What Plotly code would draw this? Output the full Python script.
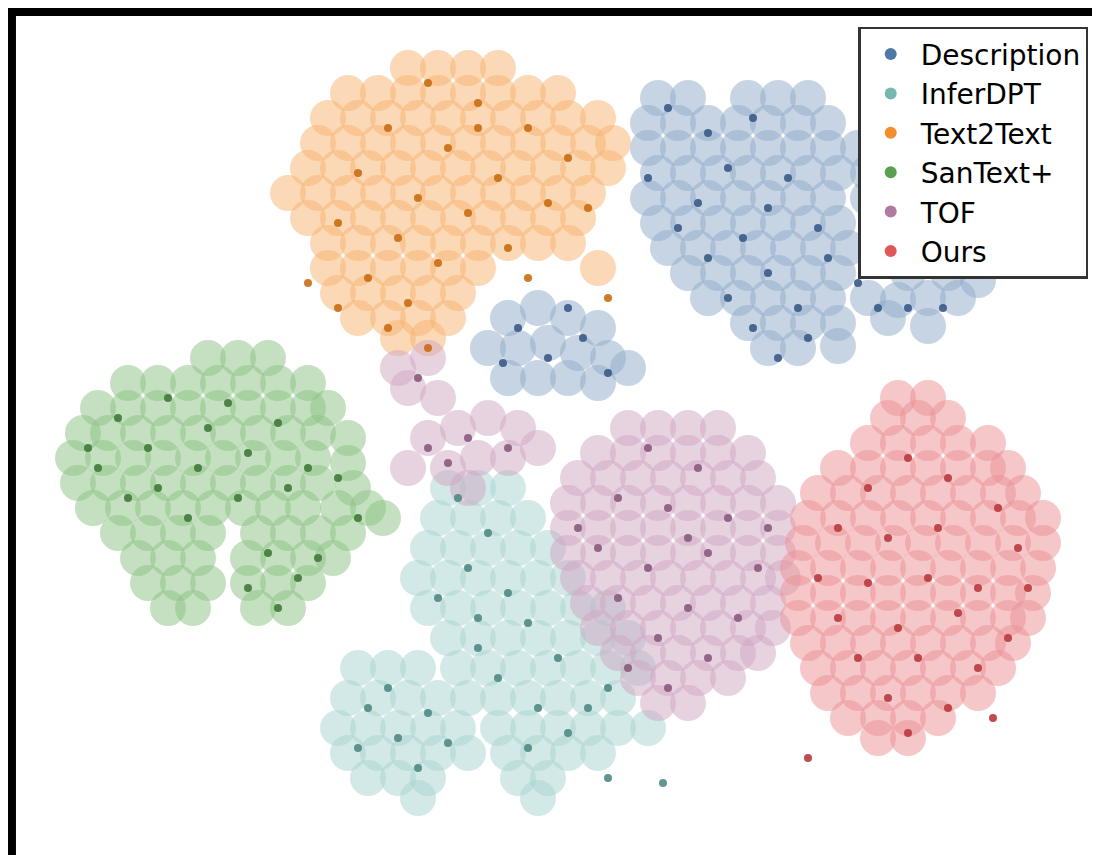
import plotly.graph_objects as go

NAMES = ["Description", "InferDPT", "Text2Text", "SanText+", "TOF", "Ours"]
LEGEND_COLORS = ["#4e79a7", "#76b7b2", "#f28e2b", "#59a14f", "#b07aa1", "#e15759"]
LIGHT_COLORS = ["#8fa9c9", "#a7d3d0", "#f7b26e", "#8cc283", "#cfa5c2", "#ec9093"]
DARK_COLORS = ["#3a5a86", "#4f8a85", "#c96d13", "#3f7a38", "#8a5a7e", "#b83a3d"]

# Hand-read point positions (image pixel coordinates) for each method
DESC_LIGHT = [(650,90),(680,90),(740,90),(770,90),(800,90),
 (640,115),(670,115),(700,115),(730,115),(760,115),(790,115),(820,115),
 (640,140),(670,140),(700,140),(730,140),(760,140),(790,140),(820,140),(850,140),
 (650,165),(680,165),(710,165),(740,165),(770,165),(800,165),(830,165),(860,165),
 (640,190),(670,190),(700,190),(730,190),(760,190),(790,190),(820,190),(860,190),(880,190),
 (650,215),(680,215),(710,215),(740,215),(770,215),(800,215),(830,215),(870,215),(890,215),(920,215),
 (660,240),(690,240),(720,240),(750,240),(780,240),(810,240),(840,240),(880,240),(910,240),
 (680,265),(710,265),(740,265),(770,265),(800,265),(830,265),(900,265),(940,265),(970,272),
 (700,290),(730,290),(760,290),(790,290),(820,290),(860,290),(890,292),(920,290),(950,290),
 (740,315),(770,315),(800,315),(830,315),(880,310),(920,318),(760,340),(790,340),(830,338),
 (500,310),(530,300),(560,310),(590,320),(480,340),(510,340),(540,335),(570,345),(600,350),
 (500,370),(530,370),(560,370),(590,375),(620,360)]
DESC_DARK = [(660,100),(700,125),(745,110),(720,160),(690,195),(760,200),(735,230),(700,250),
 (780,170),(810,220),(760,265),(790,300),(820,250),(870,300),(900,300),(850,275),(745,320),
 (800,330),(770,350),(670,220),(640,170),(720,290),(510,320),(540,350),(575,330),(495,355),
 (600,365),(560,300),(935,300),(880,250)]
INFER_LIGHT = [(440,480),(470,480),(500,480),(430,510),(460,510),(490,510),(520,510),
 (420,540),(450,540),(480,540),(510,540),(540,540),(410,570),(440,570),(470,570),(500,570),(530,570),(560,570),
 (420,600),(450,600),(480,600),(510,600),(540,600),(570,600),(600,600),
 (440,630),(470,630),(500,630),(530,630),(560,630),(590,630),(620,630),
 (350,660),(380,660),(410,660),(450,660),(480,660),(510,660),(540,660),(570,660),(600,660),(630,660),
 (340,690),(370,690),(400,690),(430,690),(460,690),(490,690),(520,690),(550,690),(580,690),(610,690),
 (330,720),(360,720),(390,720),(420,720),(450,720),(490,720),(520,720),(550,720),(580,720),(610,720),(640,720),
 (340,745),(370,745),(400,745),(430,745),(460,745),(500,745),(530,745),(560,745),(590,745),
 (360,770),(390,770),(420,770),(510,770),(540,770),(410,790),(530,790)]
INFER_DARK = [(450,490),(480,525),(460,560),(500,585),(430,590),(520,615),(470,640),(550,650),
 (580,700),(530,700),(490,670),(360,700),(390,730),(420,705),(350,740),(410,760),(440,735),
 (380,680),(520,740),(560,725),(600,680),(600,770),(655,775),(470,610)]
T2T_LIGHT = [(400,60),(430,60),(460,60),(490,60),
 (340,85),(370,85),(400,85),(430,85),(460,85),(490,85),(520,85),(550,85),
 (320,110),(350,110),(380,110),(410,110),(440,110),(470,110),(500,110),(530,110),(560,110),(590,110),
 (310,135),(340,135),(370,135),(400,135),(430,135),(460,135),(490,135),(520,135),(550,135),(580,135),(605,135),
 (300,160),(330,160),(360,160),(390,160),(420,160),(450,160),(480,160),(510,160),(540,160),(570,160),(600,160),
 (280,185),(310,185),(340,185),(370,185),(400,185),(430,185),(460,185),(490,185),(520,185),(550,185),(580,185),
 (300,210),(330,210),(360,210),(390,210),(420,210),(450,210),(480,210),(510,210),(540,210),(570,210),
 (320,235),(350,235),(380,235),(410,235),(440,235),(470,235),(500,235),(530,235),(560,235),
 (320,260),(350,260),(380,260),(410,260),(440,260),(470,260),(590,260),
 (330,285),(360,285),(390,285),(420,285),(450,285),(350,310),(380,310),(410,310),(440,310),(390,330),(420,330)]
T2T_DARK = [(420,75),(470,95),(380,120),(520,120),(440,140),(350,165),(490,170),(560,150),
 (410,190),(460,205),(540,195),(330,215),(390,230),(500,240),(430,255),(360,270),(400,295),
 (330,300),(380,320),(420,340),(300,275),(470,120),(580,200),(520,270),(600,290)]
SAN_LIGHT = [(200,350),(230,350),(260,350),
 (120,375),(150,375),(180,375),(210,375),(240,375),(270,375),(300,375),
 (90,400),(120,400),(150,400),(180,400),(210,400),(240,400),(270,400),(300,400),(320,400),
 (75,425),(100,425),(130,425),(160,425),(190,425),(220,425),(250,425),(280,425),(310,425),(340,430),
 (65,450),(95,450),(125,450),(155,450),(185,450),(215,450),(245,450),(275,450),(305,450),(340,455),
 (70,475),(100,475),(130,475),(160,475),(190,475),(220,475),(250,475),(280,475),(310,475),(345,480),(375,510),
 (85,500),(115,500),(145,500),(175,500),(205,500),(235,500),(265,500),(295,500),(330,500),(360,500),
 (110,525),(140,525),(170,525),(200,525),(250,525),(280,525),(310,525),(340,525),
 (130,550),(160,550),(190,550),(240,550),(270,550),(300,550),(325,550),
 (140,575),(170,575),(200,575),(240,575),(270,575),(300,575),(160,600),(185,600),(250,600),(280,600)]
SAN_DARK = [(110,410),(160,390),(220,395),(270,415),(90,460),(140,440),(190,460),(240,445),
 (300,460),(120,490),(180,510),(230,490),(280,480),(330,470),(350,510),(260,545),(290,570),
 (270,600),(240,580),(310,550),(200,420),(150,480),(80,440)]
TOF_LIGHT = [(620,420),(650,420),(680,420),(710,420),
 (590,445),(620,445),(650,445),(680,445),(710,445),(740,445),
 (570,470),(600,470),(630,470),(660,470),(690,470),(720,470),(750,470),
 (560,495),(590,495),(620,495),(650,495),(680,495),(710,495),(740,495),(770,495),
 (560,520),(590,520),(620,520),(650,520),(680,520),(710,520),(740,520),(770,520),
 (560,545),(590,545),(620,545),(650,545),(680,545),(710,545),(740,545),(770,545),
 (570,570),(600,570),(630,570),(660,570),(690,570),(720,570),(750,570),(775,570),
 (580,595),(610,595),(640,595),(670,595),(700,595),(730,595),(760,595),
 (590,620),(620,620),(650,620),(680,620),(710,620),(740,620),(765,620),
 (610,645),(640,645),(670,645),(700,645),(730,645),(750,645),(630,670),(660,670),(690,670),(720,670),(650,695),(680,695),
 (390,360),(420,350),(400,380),(430,390),(420,430),(450,420),(480,410),(510,420),
 (440,460),(470,450),(500,450),(530,440),(400,460),(460,480)]
TOF_DARK = [(640,440),(690,460),(610,490),(660,500),(720,510),(590,540),(640,560),(700,545),
 (750,560),(610,590),(680,600),(730,610),(650,630),(700,650),(620,660),(660,680),(570,520),
 (420,440),(460,430),(500,440),(410,370),(440,455),(760,520),(680,530)]
OURS_LIGHT = [(890,390),(920,390),(880,410),(910,410),(940,410),
 (860,435),(890,435),(920,435),(950,435),(980,435),
 (830,460),(860,460),(890,460),(920,460),(950,460),(980,460),(1000,460),
 (810,485),(840,485),(870,485),(900,485),(930,485),(960,485),(990,485),(1015,485),
 (800,510),(830,510),(860,510),(890,510),(920,510),(950,510),(980,510),(1010,510),(1035,510),
 (795,535),(825,535),(855,535),(885,535),(915,535),(945,535),(975,535),(1005,535),(1035,535),
 (790,560),(820,560),(850,560),(880,560),(910,560),(940,560),(970,560),(1000,560),(1030,560),
 (790,585),(820,585),(850,585),(880,585),(910,585),(940,585),(970,585),(1000,585),(1025,585),
 (790,610),(820,610),(850,610),(880,610),(910,610),(940,610),(970,610),(1000,610),(1020,610),
 (800,635),(830,635),(860,635),(890,635),(920,635),(950,635),(980,635),(1005,635),
 (810,660),(840,660),(870,660),(900,660),(930,660),(960,660),(990,660),
 (820,685),(850,685),(880,685),(910,685),(940,685),(970,685),(840,710),(870,710),(900,710),(930,710),(870,730),(900,730)]
OURS_DARK = [(900,450),(860,480),(940,470),(990,500),(830,520),(880,530),(930,520),(1010,540),
 (810,570),(860,575),(920,570),(970,580),(1020,580),(830,610),(890,620),(950,605),(1000,630),
 (850,650),(910,650),(970,660),(880,690),(940,700),(900,725),(800,750),(985,710)]

GROUPS = [(DESC_LIGHT, DESC_DARK), (INFER_LIGHT, INFER_DARK), (T2T_LIGHT, T2T_DARK),
          (SAN_LIGHT, SAN_DARK), (TOF_LIGHT, TOF_DARK), (OURS_LIGHT, OURS_DARK)]

fig = go.Figure()
for i, (light, dark) in enumerate(GROUPS):
    fig.add_trace(go.Scatter(x=[p[0] for p in light], y=[p[1] for p in light], mode="markers",
                             marker=dict(size=36, color=LIGHT_COLORS[i], opacity=0.5, line=dict(width=0)),
                             showlegend=False, hoverinfo="skip"))
for i, (light, dark) in enumerate(GROUPS):
    fig.add_trace(go.Scatter(x=[p[0] for p in dark], y=[p[1] for p in dark], mode="markers",
                             marker=dict(size=8, color=DARK_COLORS[i], opacity=0.9, line=dict(width=0)),
                             showlegend=False, hoverinfo="skip"))
for i, name in enumerate(NAMES):
    fig.add_trace(go.Scatter(x=[None], y=[None], mode="markers", name=name,
                             marker=dict(size=26, color=LEGEND_COLORS[i])))

fig.update_layout(
    width=1100, height=855, margin=dict(l=0, r=0, t=0, b=0),
    paper_bgcolor="white", plot_bgcolor="white",
    xaxis=dict(range=[0, 1100], visible=False),
    yaxis=dict(range=[855, 0], visible=False),
    font=dict(family="DejaVu Sans", color="black"),
    legend=dict(x=0.982, y=0.978, xanchor="right", yanchor="top", bgcolor="white",
                bordercolor="#333", borderwidth=2.5, font=dict(size=28), itemsizing="constant",
                itemwidth=50, tracegroupgap=0),
    shapes=[dict(type="rect", xref="paper", yref="paper", x0=0.0036, y0=0.0047, x1=0.9964, y1=0.9953,
                 line=dict(color="black", width=8))],
)
fig.write_html("out.html")
